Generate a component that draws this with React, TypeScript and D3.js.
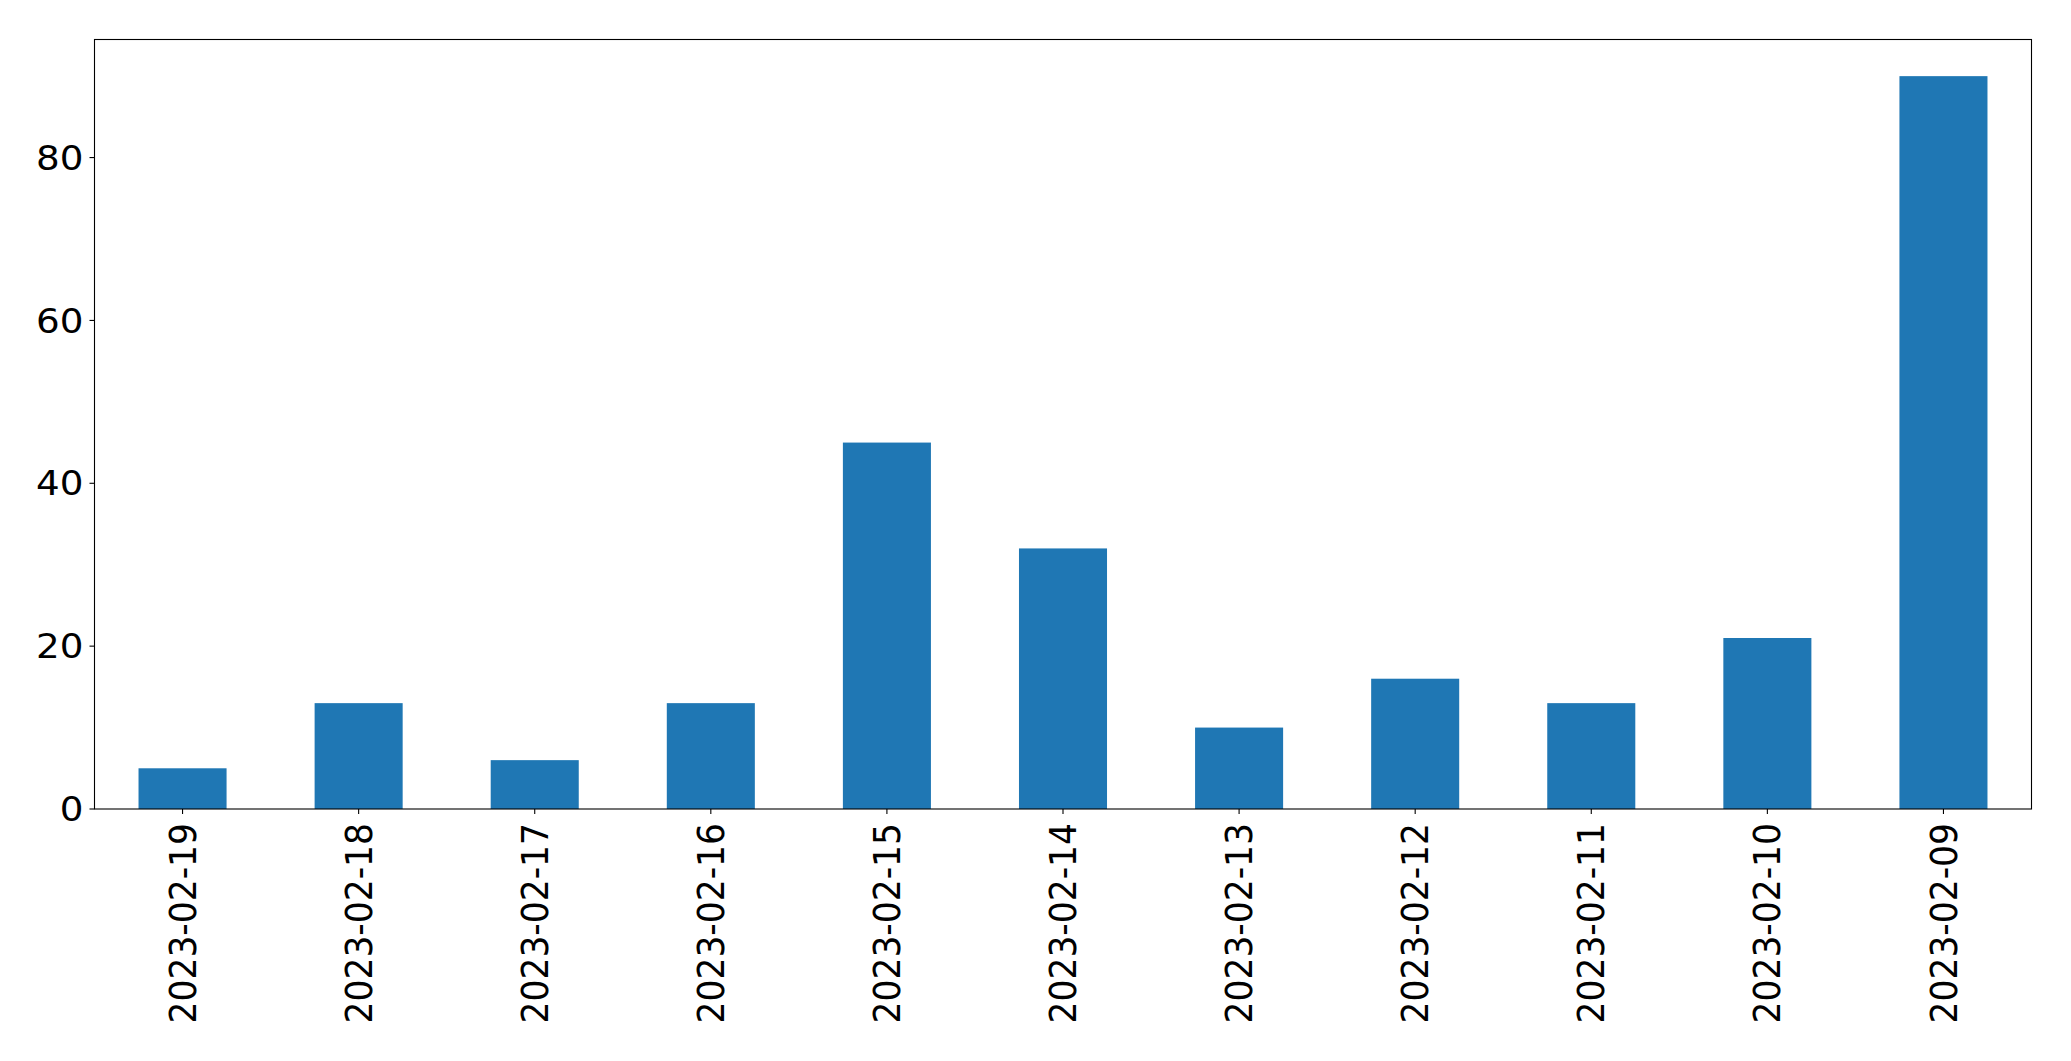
import React from "react";
import * as d3 from "d3";

const dates = [
  "2023-02-19",
  "2023-02-18",
  "2023-02-17",
  "2023-02-16",
  "2023-02-15",
  "2023-02-14",
  "2023-02-13",
  "2023-02-12",
  "2023-02-11",
  "2023-02-10",
  "2023-02-09",
];
const counts = [5, 13, 6, 13, 45, 32, 10, 16, 13, 21, 90];
const yTicks = [0, 20, 40, 60, 80];

const WIDTH = 2071;
const HEIGHT = 1061;
const MARGIN = { top: 39.5, right: 39.5, bottom: 252, left: 94.5 };
const FONT = "'DejaVu Sans', sans-serif";
const FONT_SIZE = 34.5;
// the reference image is a bit stretched horizontally
const STRETCH_X = 1.08;
const BAR_COLOR = "#1f77b4";

const App = () => {
  const boundsWidth = WIDTH - MARGIN.left - MARGIN.right;
  const boundsHeight = HEIGHT - MARGIN.top - MARGIN.bottom;

  // pandas style: categories at 0..n-1, xlim -0.5..n-0.5, bar width 0.5
  const xScale = d3
    .scaleLinear()
    .domain([-0.5, dates.length - 0.5])
    .range([0, boundsWidth]);
  const yMax = (d3.max(counts) ?? 0) * 1.05;
  const yScale = d3.scaleLinear().domain([0, yMax]).range([boundsHeight, 0]);

  const barWidth = xScale(0.5) - xScale(0);

  return (
    <svg
      width={WIDTH}
      height={HEIGHT}
      style={{ position: "absolute", left: 0, top: 0, background: "white" }}
    >
      <g transform={`translate(${MARGIN.left},${MARGIN.top})`}>
        {counts.map((v, i) => (
          <rect
            key={dates[i]}
            x={xScale(i) - barWidth / 2}
            y={yScale(v)}
            width={barWidth}
            height={boundsHeight - yScale(v)}
            fill={BAR_COLOR}
          />
        ))}

        {/* y ticks */}
        {yTicks.map((t) => (
          <g key={t} transform={`translate(0,${yScale(t)})`}>
            <line x1={-5} x2={0} stroke="black" strokeWidth={1.1} />
            <text
              transform={`translate(-11,0) scale(${STRETCH_X},1)`}
              dy="0.35em"
              textAnchor="end"
              fontFamily={FONT}
              fontSize={FONT_SIZE}
              fill="black"
            >
              {t}
            </text>
          </g>
        ))}

        {/* x ticks */}
        {dates.map((d, i) => (
          <g key={d} transform={`translate(${xScale(i)},${boundsHeight})`}>
            <line y1={0} y2={5} stroke="black" strokeWidth={1.1} />
            <text
              transform={`translate(0,14) scale(${STRETCH_X},1) rotate(-90)`}
              dy="0.35em"
              textAnchor="end"
              fontFamily={FONT}
              fontSize={FONT_SIZE}
              fill="black"
            >
              {d}
            </text>
          </g>
        ))}

        <rect
          x={0}
          y={0}
          width={boundsWidth}
          height={boundsHeight}
          fill="none"
          stroke="black"
          strokeWidth={1.1}
        />
      </g>
    </svg>
  );
};

export default App;
